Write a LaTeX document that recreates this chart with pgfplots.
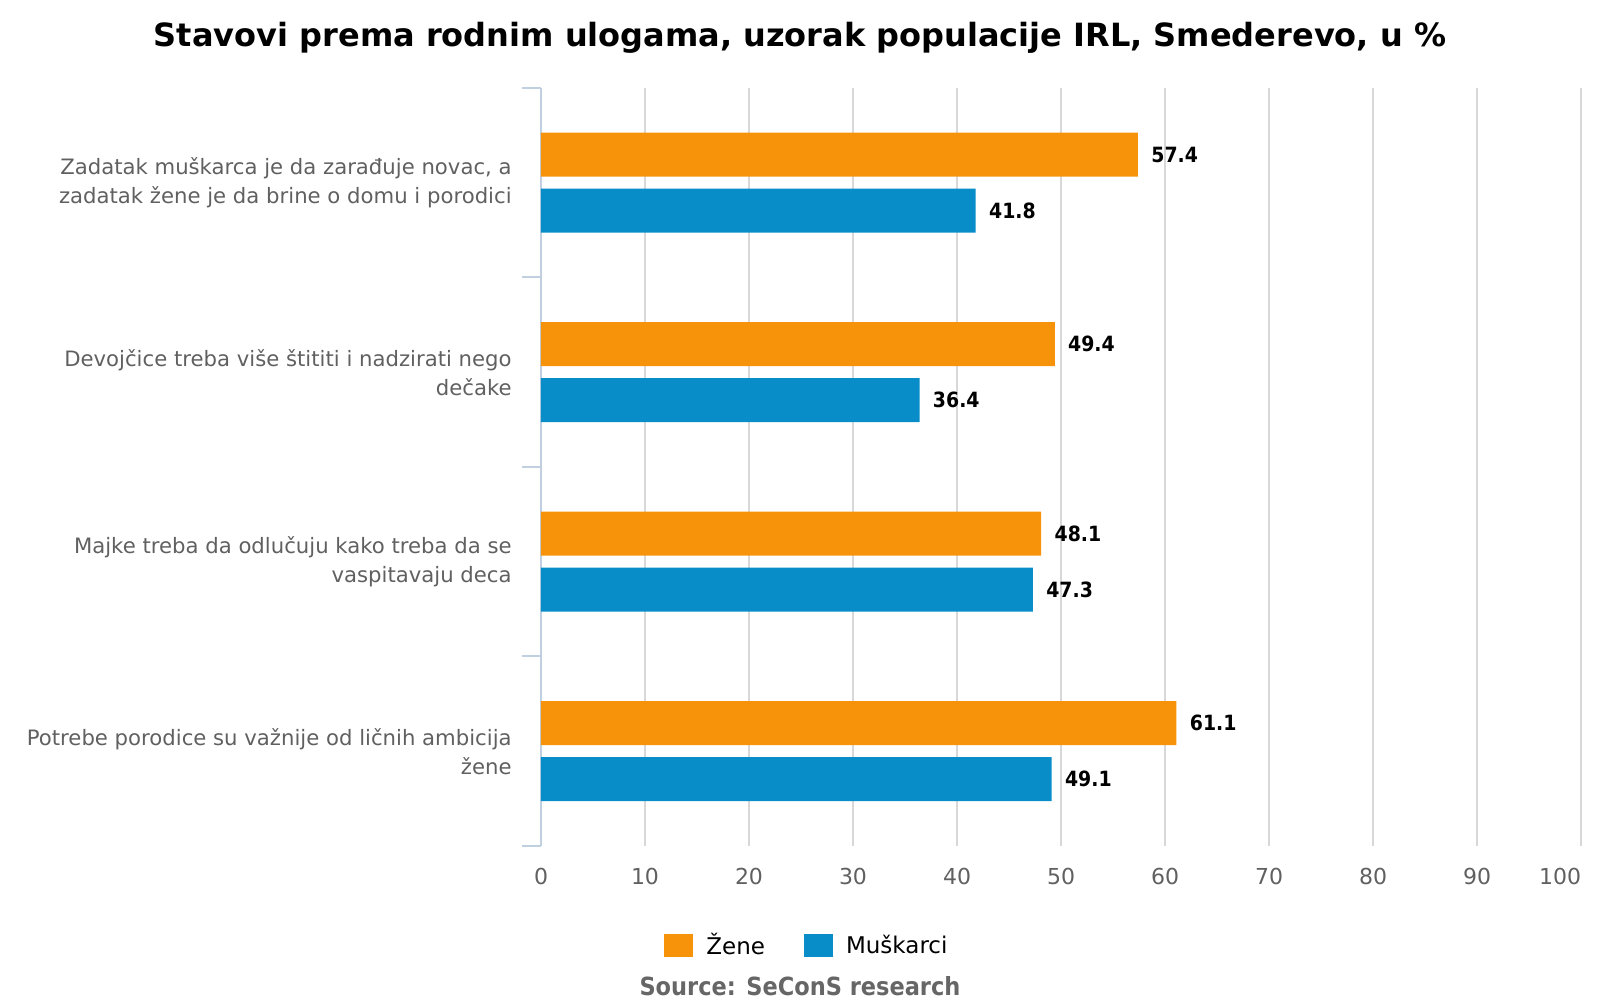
\documentclass[border=0pt]{standalone}
\usepackage{pgfplots}
\pgfplotsset{compat=1.18}
\usepackage{fontspec}
\setmainfont{DejaVu Sans}
\definecolor{zene}{HTML}{F7930A}
\definecolor{musk}{HTML}{088DC8}
\definecolor{axisblue}{HTML}{C0D0E0}
\definecolor{gridgray}{HTML}{D8D8D8}
\definecolor{labgray}{HTML}{606060}
\definecolor{srcgray}{HTML}{666666}
\pgfplotsset{sqleg/.style={legend image code/.code={\fill[##1] (0pt,-5.75pt) rectangle (14.5pt,5.75pt);}}}
\begin{document}
\begin{tikzpicture}
\useasboundingbox (0,0) rectangle (800pt,500pt);
\node[anchor=base, inner sep=0pt, font=\fontsize{16}{19}\selectfont\bfseries] at (400pt,476.5pt) {Stavovi prema rodnim ulogama, uzorak populacije IRL, Smederevo, u \%};
\begin{axis}[
  at={(270.5pt,77pt)}, anchor=south west,
  width=520pt, height=379pt, scale only axis,
  xbar, bar width=22pt,
  xmin=0, xmax=100, ymin=-0.5, ymax=3.5,
  axis y line*=left, axis x line*=bottom,
  x axis line style={draw=none},
  y axis line style={draw=axisblue, line width=1pt},
  xtick={0,10,...,100},
  xticklabels={0,10,20,30,40,50,60,70,80,90,\makebox[0pt][r]{100}},
  xticklabel style={anchor=base, inner sep=0pt, yshift=-19.5pt, font=\fontsize{11}{13}\selectfont, text=labgray},
  xmajorgrids, grid style={draw=gridgray, line width=1pt},
  ytick={0,1,2,3},
  yticklabels={{Potrebe porodice su važnije od ličnih ambicija\\žene},
               {Majke treba da odlučuju kako treba da se\\vaspitavaju deca},
               {Devojčice treba više štititi i nadzirati nego\\dečake},
               {Zadatak muškarca je da zarađuje novac, a\\zadatak žene je da brine o domu i porodici}},
  yticklabel style={anchor=east, align=right, inner sep=0pt, xshift=-14.5pt, font=\fontsize{10.6}{14.5}\selectfont, text=labgray},
  minor ytick={-0.5,0.5,1.5,2.5,3.5},
  major tick length=0pt, minor tick length=9.5pt, tick align=outside,
  tick style={draw=axisblue, line width=1pt},
  clip=false,
  nodes near coords={\scalebox{0.9}[1]{\pgfplotspointmeta}},
  point meta=explicit symbolic,
  nodes near coords style={anchor=west, inner sep=0pt, xshift=6.5pt, font=\fontsize{10.5}{13}\selectfont\bfseries, text=black},
  legend columns=2,
  legend style={at={(axis description cs:0.1183,-0.1313)}, anchor=west, draw=none, fill=none, inner sep=0pt,
     font=\fontsize{11.5}{13}\selectfont, text=black,
     nodes={inner sep=0pt},
     /tikz/every odd column/.append style={column sep=6.5pt},
     /tikz/every even column/.append style={column sep=19.5pt}},
]
\addplot[draw=none, fill=zene, bar shift=14pt, sqleg] coordinates {
  (61.1,0) [61.1]
  (48.1,1) [48.1]
  (49.4,2) [49.4]
  (57.4,3) [57.4]
};
\addplot[draw=none, fill=musk, bar shift=-14pt, sqleg] coordinates {
  (49.1,0) [49.1]
  (47.3,1) [47.3]
  (36.4,2) [36.4]
  (41.8,3) [41.8]
};
\legend{Žene, Muškarci}
\end{axis}
\node[anchor=base, inner sep=0pt, text=srcgray, font=\fontsize{12.5}{15}\selectfont\bfseries] at (400pt,2pt) {\scalebox{0.9}[1]{Source: SeConS research}};
\end{tikzpicture}
\end{document}
